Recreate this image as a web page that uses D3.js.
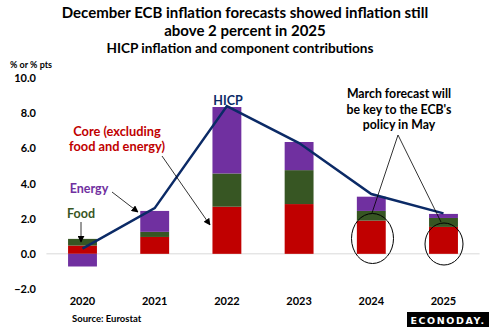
<!DOCTYPE html>
<html><head><meta charset="utf-8">
<script src="https://cdn.jsdelivr.net/npm/d3@7"></script>
<style>
html,body{margin:0;padding:0;background:#fff;}
svg{display:block;font-family:Lato,"Open Sans",sans-serif;font-weight:bold;}
</style></head>
<body><svg id="c" width="489" height="327"></svg>
<script>
const years = ["2020","2021","2022","2023","2024","2025"];
const core = [0.47, 0.96, 2.68, 2.83, 1.89, 1.53];
const food = [0.38, 0.29, 1.89, 1.93, 0.55, 0.51];
const energy = [-0.72, 1.19, 3.78, 1.60, 0.81, 0.23];
const hicp = [0.3, 2.6, 8.4, 6.3, 3.4, 2.3];
const yTicks = [-2, 0, 2, 4, 6, 8, 10];

const svg = d3.select("#c");
const x = d3.scaleBand().domain(years).range([46.4, 479.6]).paddingInner(0.6).paddingOuter(0.3);
const y = d3.scaleLinear().domain([-2, 10]).range([289, 78]);

const colors = {core:"#c00000", food:"#375623", energy:"#7030a0", line:"#0b2a66"};

// titles
svg.append("text").attr("x",245).attr("y",18).attr("text-anchor","middle").attr("font-size",15).text("December ECB inflation forecasts showed inflation still");
svg.append("text").attr("x",245).attr("y",36).attr("text-anchor","middle").attr("font-size",15).text("above 2 percent in 2025");
svg.append("text").attr("x",240).attr("y",53).attr("text-anchor","middle").attr("font-size",13.6).text("HICP inflation and component contributions");
svg.append("text").attr("x",10).attr("y",68).attr("font-size",9).text("% or % pts");

// y axis labels
const yAxis = svg.append("g").attr("transform","translate(36,0)")
  .call(d3.axisLeft(y).tickValues(yTicks).tickFormat(d3.format(".1f")).tickSize(0).tickPadding(0));
yAxis.select(".domain").remove();
yAxis.selectAll("text").attr("font-size",11).attr("font-family","Lato,sans-serif").attr("font-weight","bold").attr("fill","#000");

// zero line
svg.append("line").attr("x1",46.4).attr("x2",479.6).attr("y1",y(0)).attr("y2",y(0)).attr("stroke","#d9d9d9").attr("stroke-width",1);

// stacked bars
const rows = years.map((yr,i)=>({yr, core:core[i], food:food[i], energy:energy[i]}));
rows.forEach(r=>{
  let pos = 0, neg = 0;
  [["core",r.core],["food",r.food],["energy",r.energy]].forEach(([k,v])=>{
    let y0, y1;
    if (v >= 0) { y0 = pos; y1 = pos + v; pos = y1; }
    else { y0 = neg + v; y1 = neg; neg = y0; }
    svg.append("rect").attr("x",x(r.yr)).attr("width",x.bandwidth())
      .attr("y",y(y1)).attr("height",y(y0)-y(y1)).attr("fill",colors[k]);
  });
});

// HICP line
const line = d3.line().x((d,i)=>x(years[i])+x.bandwidth()/2).y(d=>y(d));
svg.append("path").datum(hicp).attr("d",line).attr("fill","none").attr("stroke",colors.line).attr("stroke-width",2.5);

// x labels
const xAxis = svg.append("g").attr("transform","translate(0,297)")
  .call(d3.axisBottom(x).tickSize(0).tickPadding(0));
xAxis.select(".domain").remove();
xAxis.selectAll("text").attr("font-size",11).attr("font-family","Lato,sans-serif").attr("font-weight","bold").attr("fill","#000");

svg.append("text").attr("x",72).attr("y",322).attr("font-size",9.5).text("Source: Eurostat");

// logo
svg.append("rect").attr("x",407).attr("y",312).attr("width",82).attr("height",15).attr("fill","#000");
svg.append("text").attr("x",448).attr("y",323.5).attr("text-anchor","middle").attr("font-size",9.5).attr("font-family","'DejaVu Sans',sans-serif").attr("letter-spacing",1.6).attr("fill","#fff").text("ECONODAY.");

// arrow marker
const defs = svg.append("defs");
defs.append("marker").attr("id","ah").attr("viewBox","0 0 10 10").attr("refX",9).attr("refY",5)
  .attr("markerWidth",7).attr("markerHeight",7).attr("markerUnits","userSpaceOnUse").attr("orient","auto")
  .append("path").attr("d","M0,0L10,5L0,10z").attr("fill","#000");

// annotations
svg.append("text").attr("x",228).attr("y",105).attr("text-anchor","middle").attr("font-size",12.5).attr("fill",colors.line).text("HICP");
svg.append("text").attr("x",117).attr("y",136).attr("text-anchor","middle").attr("font-size",12.8).attr("fill",colors.core).text("Core (excluding");
svg.append("text").attr("x",117).attr("y",151).attr("text-anchor","middle").attr("font-size",12.8).attr("fill",colors.core).text("food and energy)");
svg.append("line").attr("x1",162).attr("y1",156).attr("x2",210).attr("y2",225).attr("stroke","#000").attr("stroke-width",0.8).attr("marker-end","url(#ah)");
svg.append("text").attr("x",89).attr("y",193).attr("text-anchor","middle").attr("font-size",12.5).attr("fill",colors.energy).text("Energy");
svg.append("line").attr("x1",112).attr("y1",192).attr("x2",138).attr("y2",212).attr("stroke","#000").attr("stroke-width",0.8).attr("marker-end","url(#ah)");
svg.append("text").attr("x",81).attr("y",218).attr("text-anchor","middle").attr("font-size",12.5).attr("fill",colors.food).text("Food");
svg.append("line").attr("x1",81).attr("y1",222).attr("x2",81).attr("y2",242).attr("stroke","#000").attr("stroke-width",0.8).attr("marker-end","url(#ah)");

["March forecast will","be key to the ECB's","policy in May"].forEach((t,i)=>{
  svg.append("text").attr("x",399).attr("y",98+i*15.5).attr("text-anchor","middle").attr("font-size",12.3).attr("fill","#000").text(t);
});
svg.append("line").attr("x1",398).attr("y1",135).attr("x2",372).attr("y2",213).attr("stroke","#000").attr("stroke-width",0.8);
svg.append("line").attr("x1",398).attr("y1",135).attr("x2",441).attr("y2",222).attr("stroke","#000").attr("stroke-width",0.8);
svg.append("ellipse").attr("cx",372.5).attr("cy",238.5).attr("rx",21).attr("ry",25).attr("fill","none").attr("stroke","#000").attr("stroke-width",1);
svg.append("ellipse").attr("cx",444).attr("cy",244).attr("rx",19).attr("ry",21).attr("fill","none").attr("stroke","#000").attr("stroke-width",1);
</script></body></html>
